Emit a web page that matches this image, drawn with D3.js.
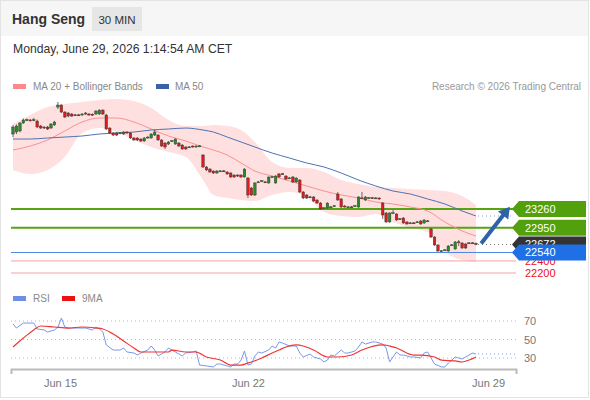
<!DOCTYPE html>
<html>
<head>
<meta charset="utf-8">
<script src="https://cdnjs.cloudflare.com/ajax/libs/d3/7.8.5/d3.min.js"></script>
<style>
body{margin:0;background:#fff;font-family:'Liberation Sans',Arial,sans-serif;}
</style>
</head>
<body>
<div id="chart"></div>
<script>
// 30 min candles, index 0..134
var opens = [
24502,24535,24552,24684,24730,24735,24730,24717,24635,24618,
24618,24601,24651,24949,24982,24866,24850,24833,24812,24820,
24817,24833,24833,24830,24833,24833,24899,24817,24601,24519,
24519,24512,24502,24535,24519,24436,24436,24419,24386,24436,
24436,24485,24485,24403,24353,24336,24380,24336,24353,24320,
24287,24282,24303,24287,24300,24154,23956,23922,23889,23856,
23885,23892,23873,23856,23823,23823,23823,23790,23773,23608,
23492,23700,23720,23710,23691,23786,23691,23840,23836,23806,
23770,23790,23707,23740,23542,23492,23455,23459,23409,23359,
23272,23277,23290,23306,23508,23426,23310,23290,23296,23306,
23293,23445,23409,23440,23446,23440,23442,23359,23194,23045,
23190,23177,23090,23111,23045,23025,23031,23042,23061,23028,
23058,22929,22796,22664,22562,22578,22565,22660,22598,22716,
22697,22680,22694,22700,22690];
var closes = [
24618,24635,24684,24734,24740,24728,24738,24618,24601,24601,
24585,24668,24701,24982,24866,24784,24800,24800,24820,24812,
24833,24850,24817,24815,24883,24899,24833,24585,24519,24485,
24485,24522,24535,24519,24436,24403,24403,24386,24436,24452,
24502,24535,24403,24303,24287,24370,24390,24419,24303,24254,
24254,24290,24287,24303,24306,23956,23906,23873,23856,23889,
23892,23886,23840,23790,23790,23806,23790,23922,23492,23492,
23691,23710,23728,23704,23790,23794,23806,23790,23844,23757,
23776,23707,23773,23542,23442,23442,23462,23392,23359,23260,
23280,23359,23296,23314,23409,23293,23293,23296,23290,23314,
23459,23440,23459,23446,23440,23444,23426,23161,23045,23194,
23198,23078,23098,23028,23012,23031,23025,23048,23012,23078,
23064,22796,22664,22565,22568,22584,22647,22667,22714,22712,
22614,22614,22700,22694,22672];
var highs = [
24650,24660,24700,24760,24760,24750,24770,24740,24650,24630,
24635,24680,24720,25032,24995,24880,24866,24850,24835,24833,
24850,24866,24850,24845,24895,24910,24910,24833,24615,24530,
24535,24535,24550,24550,24535,24450,24450,24430,24450,24465,
24515,24570,24500,24415,24365,24385,24405,24430,24365,24335,
24300,24300,24315,24315,24320,24170,23970,23935,23900,23905,
23905,23905,23885,23870,23835,23835,23835,23935,23790,23625,
23705,23725,23740,23722,23800,23810,23820,23855,23855,23820,
23790,23805,23785,23755,23555,23505,23475,23475,23420,23375,
23290,23370,23310,23325,23540,23440,23325,23310,23310,23325,
23470,23542,23475,23460,23460,23458,23455,23375,23210,23205,
23245,23190,23110,23125,23058,23045,23045,23060,23075,23090,
23078,22945,22810,22678,22580,22595,22660,22680,22730,22747,
22710,22695,22712,22712,22705];
var lows = [
24450,24500,24530,24670,24715,24712,24715,24600,24585,24585,
24568,24590,24640,24915,24850,24765,24780,24785,24800,24800,
24805,24820,24805,24800,24820,24820,24820,24570,24500,24470,
24470,24500,24490,24505,24420,24390,24385,24370,24375,24425,
24425,24470,24390,24290,24254,24320,24370,24325,24290,24240,
24240,24270,24275,24275,24290,23940,23890,23860,23840,23845,
23875,23875,23825,23775,23775,23790,23775,23780,23442,23475,
23475,23690,23710,23690,23680,23775,23680,23775,23825,23740,
23760,23690,23695,23525,23425,23425,23440,23375,23345,23245,
23260,23265,23280,23295,23395,23280,23280,23280,23280,23295,
23280,23430,23395,23430,23430,23430,23412,23094,23030,23030,
23180,23065,23080,23015,23000,23015,23015,23030,23000,23015,
23048,22780,22650,22548,22548,22565,22550,22650,22585,22647,
22600,22600,22685,22685,22660];

// indicator readings (candle index -> value)
var bandIdx = [0,5,10,15,20,25,30,35,40,45,50,55,58,62,66,70,75,80,85,90,95,100,105,110,115,120,125,130,134];
var bbUpper = [24668,24817,24949,24999,25032,25065,25082,25048,24933,24734,24634,24634,24651,24634,24568,24370,24038,23939,23939,23873,23740,23674,23624,23608,23591,23575,23558,23475,23326];
var bbLower = [23906,23840,23906,24121,24519,24601,24535,24403,24287,24204,24121,23740,23492,23442,23409,23392,23492,23542,23459,23210,23144,23128,23177,23045,22945,22879,22548,22415,22382];
var ma20 = [24237,24303,24403,24552,24701,24767,24767,24701,24585,24469,24386,24287,24237,24154,24022,23889,23806,23724,23641,23558,23492,23442,23376,23343,23293,23227,23045,22896,22813];
var ma50 = [24419,24419,24436,24452,24469,24502,24519,24535,24568,24585,24601,24568,24535,24452,24370,24287,24187,24105,24022,23956,23856,23740,23641,23558,23508,23426,23343,23227,23144];

var rsiIdx = [0,1,3,4,6,7,9,10,12,13,14,15,16,17,19,21,23,24,25,26,27,29,30,31,32,33,35,36,37,39,40,41,42,44,45,46,47,49,50,52,53,54,56,58,59,60,62,63,64,65,66,67,68,69,70,71,72,74,75,76,77,78,80,82,83,84,86,87,89,90,91,92,93,95,96,97,99,100,101,102,104,105,107,108,109,111,112,113,115,116,118,119,120,121,122,124,125,126,127,128,129,130,131,133,134];
var rsiVal = [66.8,62.4,67.8,67.8,67.8,61.4,60.3,58.1,60.3,63.5,73.2,63.5,62.4,62.4,62.4,62.4,60.3,63.5,61.4,58.1,44.1,38.6,38.6,38.6,40.8,36.5,35.4,33.2,35.4,38.6,43,38.6,32.2,36.5,40.8,38.6,36.5,32.2,35.4,36.5,37.6,22.4,21.4,20.3,23.5,23.5,21.4,20.3,23.5,23.5,27.8,37.6,22.4,23.5,32.2,36.5,35.4,38.6,43,40.8,47.3,46.2,43,43,35.4,31.1,34.3,31.1,28.9,25.7,27.8,33.2,32.2,38.6,35.4,35.4,37.6,41.9,47.3,45.1,47.3,47.3,45.1,40.8,25.7,36.5,33.2,33.2,31.1,31.1,30,35.4,36.5,30,23.5,20.3,20.3,24.6,27.8,31.1,30,28.9,31.1,35.4,34.3];
var rsiMaIdx = [0,3,6,8,12,16,20,24,26,29,32,35,37,41,45,46,50,53,56,60,63,66,68,69,72,75,77,79,82,84,87,91,94,98,101,107,111,116,118,122,124,128,130,132,134];
var rsiMaVal = [41.9,51.6,60.3,64.6,63.5,62.4,63.5,62.4,61.4,56,48.4,40.8,36.5,36.5,36.5,38.6,36.5,36.5,31.1,27.8,22.4,22.4,24.6,25.7,30,35.4,38.6,41.9,44.1,43,38.6,31.1,31.1,33.2,38.6,44.1,40.8,33.2,33.2,31.1,27.8,26.8,25.7,27.8,31.1];
var rsiLevels = [30, 50, 70];

// Trading Central levels
var resistLevels = [23260, 22950];
var lastPrice = 22672;
var pivotLevel = 22540;
var supportLevels = [22400, 22200];

// axis
var tickIdx = [13.6, 68, 137.5];
var tickLabels = ['Jun 15', 'Jun 22', 'Jun 29'];

var svgWidth = 590, svgHeight = 400;
var plotLeft = 11, plotRight = 516;
var font = "'Liberation Sans', Arial, sans-serif";

var svg = d3.select('#chart').append('svg')
  .attr('width', svgWidth)
  .attr('height', svgHeight)
  .style('font-family', font);

// frame + header
svg.append('rect').attr('x', 0.5).attr('y', 0.5).attr('width', svgWidth - 2).attr('height', svgHeight - 3)
  .attr('fill', '#fff').attr('stroke', '#e3e3e3');
svg.append('rect').attr('x', 1).attr('y', 1).attr('width', svgWidth - 3).attr('height', 35).attr('fill', '#f6f6f6');
svg.append('text').attr('x', 12).attr('y', 24).attr('font-size', 14).attr('font-weight', 'bold')
  .attr('fill', '#333').text('Hang Seng');
svg.append('rect').attr('x', 92).attr('y', 7).attr('width', 50).attr('height', 24).attr('fill', '#e6e6e6');
svg.append('text').attr('x', 117).attr('y', 23.5).attr('font-size', 11.5).attr('text-anchor', 'middle')
  .attr('fill', '#333').text('30 MIN');
svg.append('text').attr('x', 13).attr('y', 53).attr('font-size', 12.2).attr('fill', '#333')
  .text('Monday, June 29, 2026 1:14:54 AM CET');

// legends
svg.append('rect').attr('x', 13).attr('y', 84).attr('width', 13).attr('height', 5).attr('fill', '#f88');
svg.append('text').attr('x', 33).attr('y', 90).attr('font-size', 10).attr('fill', '#888').text('MA 20 + Bollinger Bands');
svg.append('rect').attr('x', 156).attr('y', 84).attr('width', 13).attr('height', 5).attr('fill', '#3a62a4');
svg.append('text').attr('x', 175).attr('y', 90).attr('font-size', 10).attr('fill', '#888').text('MA 50');
svg.append('text').attr('x', 581).attr('y', 90).attr('font-size', 10).attr('fill', '#999')
  .attr('text-anchor', 'end').text('Research \u00a9 2026 Trading Central');

var xScale = d3.scaleLinear().domain([-0.58, 145.58]).range([plotLeft, plotRight]);
var yScale = d3.scaleLinear().domain([22200, 25500]).range([273, 73.76]);
var rsiY = d3.scaleLinear().domain([30, 70]).range([358, 321]);

var g = svg.append('g');

// bollinger band
var band = d3.area()
  .x(function(d, i){ return xScale(bandIdx[i]); })
  .y0(function(d, i){ return yScale(bbLower[i]); })
  .y1(function(d, i){ return yScale(bbUpper[i]); })
  .curve(d3.curveMonotoneX);
g.append('path').datum(bandIdx).attr('d', band).attr('fill', '#ffe0e0');

// support / pivot / resistance lines
supportLevels.forEach(function(v){
  g.append('line').attr('x1', plotLeft).attr('x2', plotRight)
    .attr('y1', yScale(v)).attr('y2', yScale(v))
    .attr('stroke', '#f4a3a3').attr('stroke-width', 1);
});
g.append('line').attr('x1', plotLeft).attr('x2', plotRight)
  .attr('y1', yScale(pivotLevel)).attr('y2', yScale(pivotLevel))
  .attr('stroke', '#4a86e8').attr('stroke-width', 1);
resistLevels.forEach(function(v){
  g.append('line').attr('x1', plotLeft).attr('x2', plotRight)
    .attr('y1', yScale(v)).attr('y2', yScale(v))
    .attr('stroke', '#58a312').attr('stroke-width', 2);
});

// moving averages
var lineOf = function(vals){
  return d3.line()
    .x(function(d, i){ return xScale(bandIdx[i]); })
    .y(function(d){ return yScale(d); })
    .curve(d3.curveMonotoneX)(vals);
};
g.append('path').attr('d', lineOf(ma20)).attr('fill', 'none').attr('stroke', '#f79191').attr('stroke-width', 1);
g.append('path').attr('d', lineOf(ma50)).attr('fill', 'none').attr('stroke', '#4f72b3').attr('stroke-width', 1);

// candles
var idx = d3.range(closes.length);
var candles = g.selectAll('g.candle').data(idx).enter().append('g').attr('class', 'candle');
candles.append('line')
  .attr('x1', function(i){ return xScale(i); })
  .attr('x2', function(i){ return xScale(i); })
  .attr('y1', function(i){ return yScale(highs[i]); })
  .attr('y2', function(i){ return yScale(lows[i]); })
  .attr('stroke', '#444').attr('stroke-width', 0.8);
candles.append('rect')
  .attr('x', function(i){ return xScale(i) - 1.3; })
  .attr('width', 2.6)
  .attr('y', function(i){ return yScale(Math.max(opens[i], closes[i])); })
  .attr('height', function(i){ return Math.max(1, Math.abs(yScale(opens[i]) - yScale(closes[i]))); })
  .attr('fill', function(i){ return closes[i] >= opens[i] ? '#2a8a2a' : '#d81e1e'; })
  .attr('stroke', '#333').attr('stroke-width', 0.4);

// dotted continuations
var lastI = closes.length - 1;
g.append('line').attr('x1', xScale(lastI) + 2).attr('x2', 512)
  .attr('y1', yScale(ma50[ma50.length - 1])).attr('y2', yScale(ma50[ma50.length - 1]))
  .attr('stroke', '#8aa0c8').attr('stroke-dasharray', '1,3');
g.append('line').attr('x1', xScale(lastI) + 2).attr('x2', 512)
  .attr('y1', yScale(lastPrice)).attr('y2', yScale(lastPrice))
  .attr('stroke', '#777').attr('stroke-dasharray', '1,3');

// arrow to first resistance
var ax0 = xScale(lastI + 1.5), ay0 = yScale(lastPrice + 15);
var ax1 = xScale(lastI + 8.2), ay1 = yScale(resistLevels[0] - 80);
var dx = ax1 - ax0, dy = ay1 - ay0, len = Math.sqrt(dx * dx + dy * dy);
var ux = dx / len, uy = dy / len;
g.append('line').attr('x1', ax0).attr('y1', ay0).attr('x2', ax1).attr('y2', ay1)
  .attr('stroke', '#2f62a8').attr('stroke-width', 4);
g.append('path')
  .attr('d', 'M' + (ax1 + ux * 9) + ',' + (ay1 + uy * 9) +
    'L' + (ax1 - ux * 2 - uy * 6.5) + ',' + (ay1 - uy * 2 + ux * 6.5) +
    'L' + (ax1 - ux * 2 + uy * 6.5) + ',' + (ay1 - uy * 2 - ux * 6.5) + 'Z')
  .attr('fill', '#2f62a8');

// right side labels
supportLevels.forEach(function(v){
  g.append('text').attr('x', 525).attr('y', yScale(v)).attr('dy', '0.36em')
    .attr('font-size', 11).attr('fill', '#ee1111').text(v);
});
var tag = function(v, fill){
  var y = yScale(v);
  g.append('path')
    .attr('d', 'M512,' + y + 'L519,' + (y - 8) + 'H586V' + (y + 8) + 'H519Z')
    .attr('fill', fill);
  g.append('text').attr('x', 525).attr('y', y).attr('dy', '0.36em')
    .attr('font-size', 11).attr('fill', '#fff').text(v);
};
resistLevels.forEach(function(v){ tag(v, '#52a00c'); });
tag(lastPrice, '#333');
tag(pivotLevel, '#1f6fe6');

// RSI panel
svg.append('rect').attr('x', 13).attr('y', 296).attr('width', 13).attr('height', 5).attr('fill', '#6d8fe6');
svg.append('text').attr('x', 33).attr('y', 302).attr('font-size', 10).attr('fill', '#888').text('RSI');
svg.append('rect').attr('x', 62).attr('y', 296).attr('width', 13).attr('height', 5).attr('fill', '#ee1111');
svg.append('text').attr('x', 82).attr('y', 302).attr('font-size', 10).attr('fill', '#888').text('9MA');

var r = svg.append('g');
rsiLevels.forEach(function(v){
  r.append('line').attr('x1', plotLeft).attr('x2', plotRight)
    .attr('y1', rsiY(v)).attr('y2', rsiY(v))
    .attr('stroke', '#bbb').attr('stroke-dasharray', '1,3');
});
var rAxis = r.append('g').attr('transform', 'translate(' + plotRight + ',0)')
  .call(d3.axisRight(rsiY).tickValues(rsiLevels).tickSize(0).tickPadding(8));
rAxis.select('.domain').remove();
rAxis.selectAll('text').attr('font-size', 11).attr('fill', '#777').attr('font-family', font);

var rsiLine = d3.line()
  .x(function(d, i){ return xScale(rsiIdx[i]); })
  .y(function(d){ return rsiY(d); });
var rsiMaLine = d3.line()
  .x(function(d, i){ return xScale(rsiMaIdx[i]); })
  .y(function(d){ return rsiY(d); })
  .curve(d3.curveMonotoneX);
r.append('path').attr('d', rsiLine(rsiVal)).attr('fill', 'none').attr('stroke', '#7898ea').attr('stroke-width', 1);
r.append('path').attr('d', rsiMaLine(rsiMaVal)).attr('fill', 'none').attr('stroke', '#f03535').attr('stroke-width', 1.2);
r.append('line').attr('x1', xScale(rsiIdx[rsiIdx.length - 1]) + 2).attr('x2', plotRight)
  .attr('y1', rsiY(rsiVal[rsiVal.length - 1])).attr('y2', rsiY(rsiVal[rsiVal.length - 1]))
  .attr('stroke', '#7898ea').attr('stroke-dasharray', '1,3');

// time axis
var xAxis = d3.axisBottom(xScale)
  .tickValues(tickIdx)
  .tickFormat(function(d, i){ return tickLabels[i]; })
  .tickSizeInner(0).tickSizeOuter(5).tickPadding(10);
var xg = svg.append('g').attr('transform', 'translate(0,369)').call(xAxis);
xg.select('.domain').attr('stroke', '#bbb').attr('stroke-width', 2);
xg.selectAll('text').attr('font-size', 11).attr('fill', '#777').attr('font-family', font);
</script>
</body>
</html>
